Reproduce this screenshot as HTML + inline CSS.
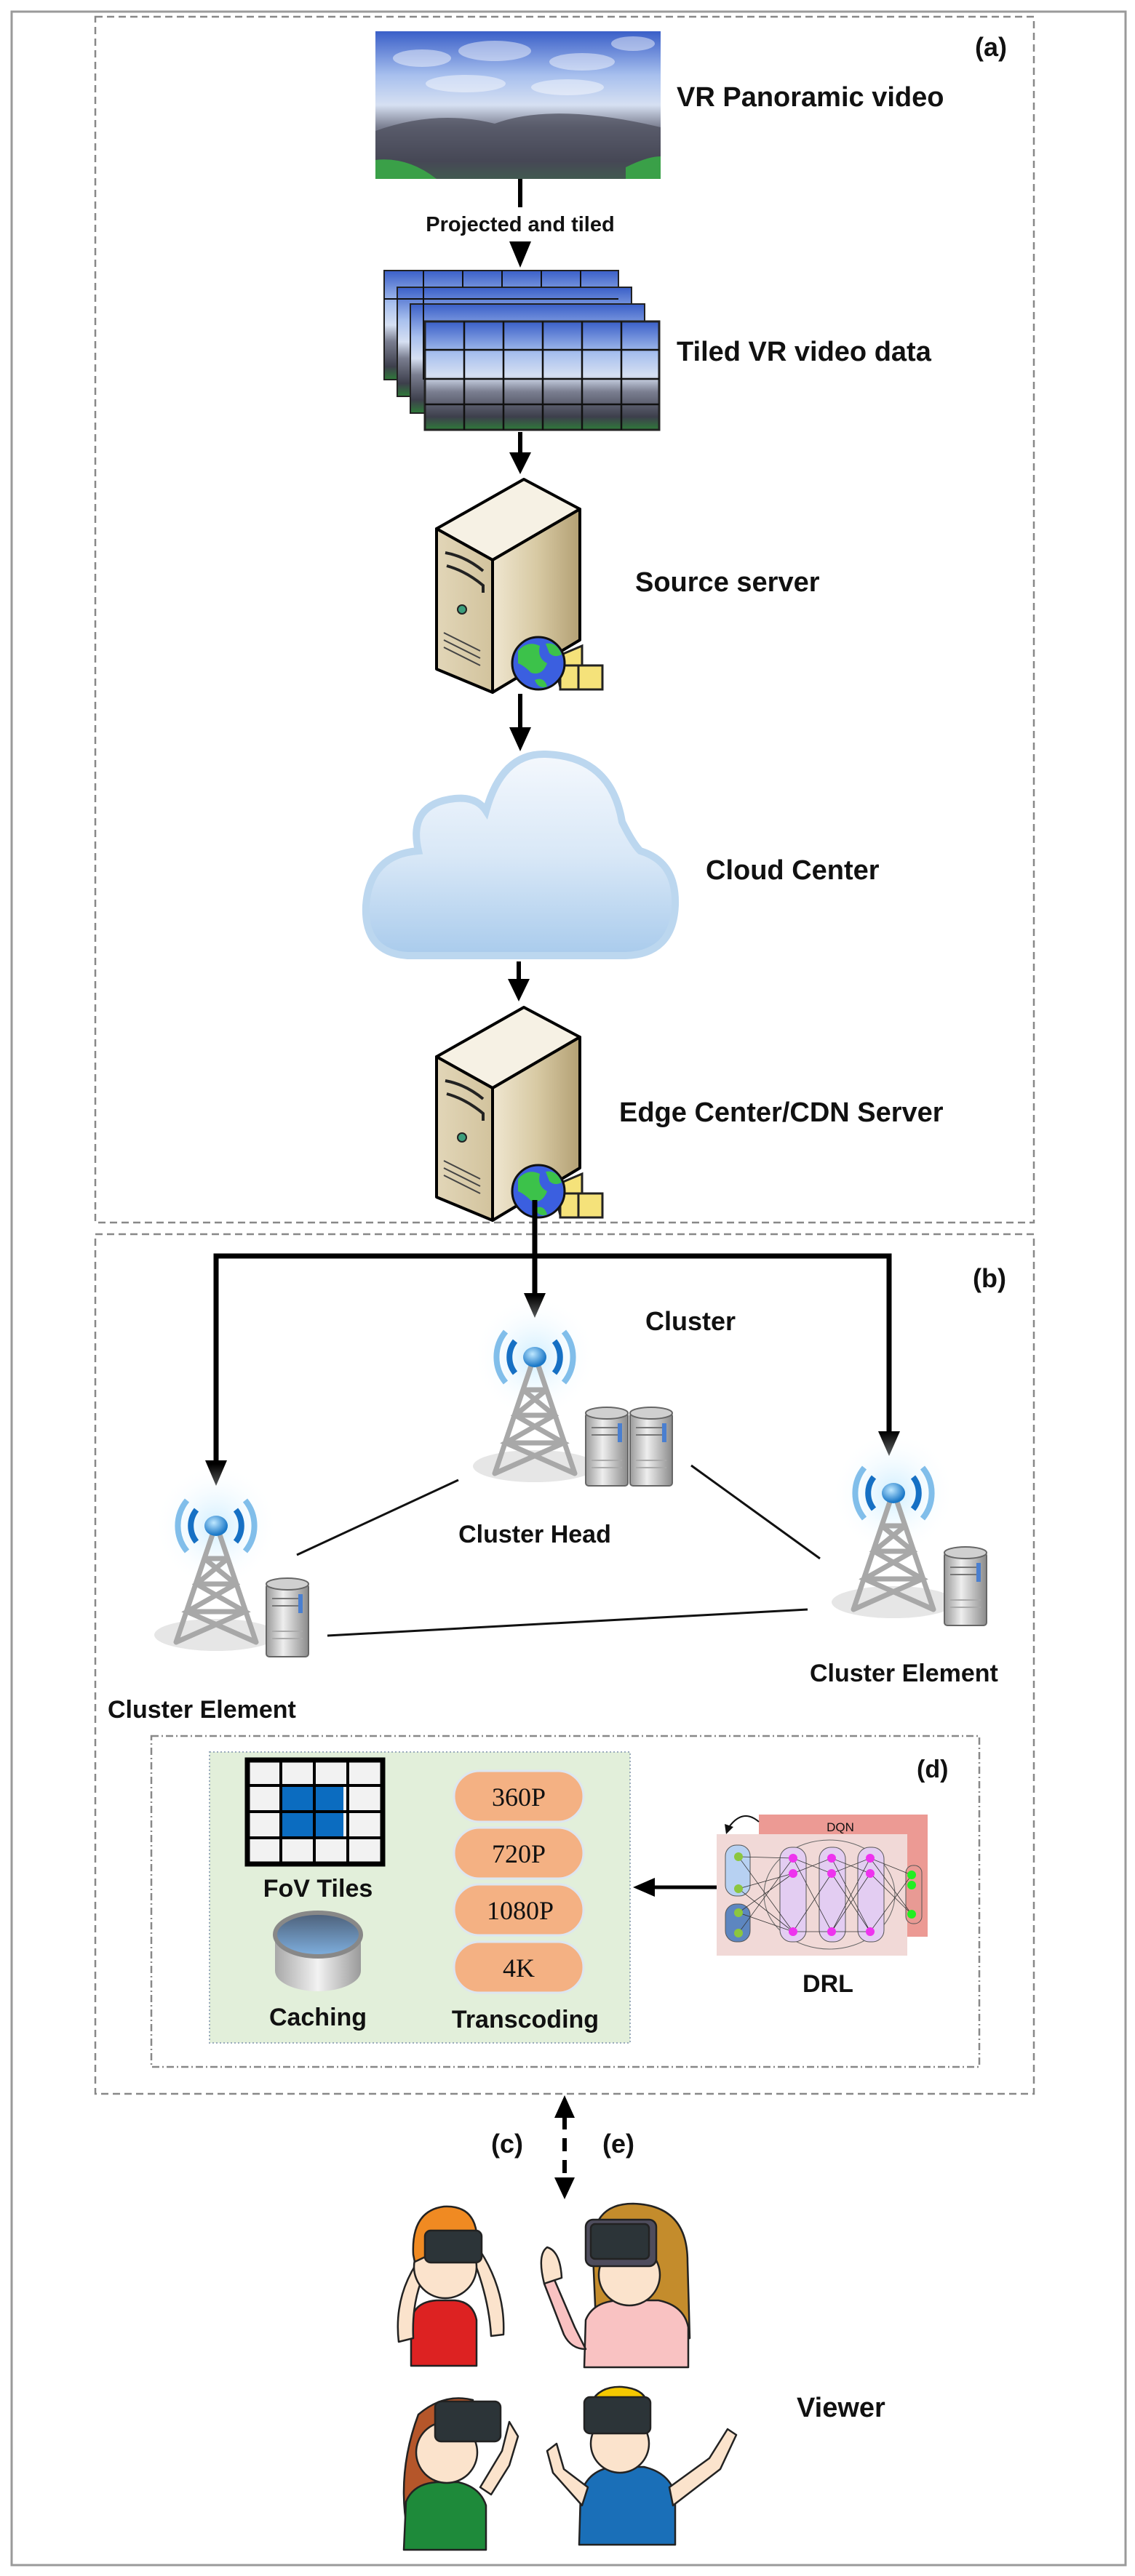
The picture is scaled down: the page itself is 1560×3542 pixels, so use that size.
<!DOCTYPE html>
<html><head><meta charset="utf-8">
<style>
html,body{margin:0;padding:0;background:#fff;}
svg{display:block;}
text{font-family:"Liberation Sans",Arial,sans-serif;font-weight:bold;fill:#111;}
.s{font-family:"Liberation Serif",serif;font-weight:normal;}
</style></head>
<body>
<svg width="1560" height="3542" viewBox="0 0 1560 3542" xmlns="http://www.w3.org/2000/svg">
<defs>
<linearGradient id="sky" x1="0" y1="0" x2="0" y2="1">
<stop offset="0" stop-color="#3a5fc8"/><stop offset="0.3" stop-color="#a8c0ee"/><stop offset="0.5" stop-color="#d6e0f2"/><stop offset="0.65" stop-color="#7a7e90"/><stop offset="0.88" stop-color="#3d3f4c"/><stop offset="1" stop-color="#2f7a3a"/>
</linearGradient>
<linearGradient id="cloud" x1="0" y1="0" x2="0" y2="1">
<stop offset="0" stop-color="#f4f8fd"/><stop offset="0.5" stop-color="#d9e8f7"/><stop offset="1" stop-color="#a9cbec"/>
</linearGradient>
<linearGradient id="srvL" x1="0" y1="0" x2="1" y2="0"><stop offset="0" stop-color="#e2d6b8"/><stop offset="1" stop-color="#d2c39d"/></linearGradient>
<linearGradient id="srvR" x1="0" y1="0" x2="1" y2="0"><stop offset="0" stop-color="#efe6d0"/><stop offset="0.5" stop-color="#d8caa4"/><stop offset="1" stop-color="#b3a074"/></linearGradient>
<linearGradient id="rack" x1="0" y1="0" x2="1" y2="0"><stop offset="0" stop-color="#9a9a9a"/><stop offset="0.4" stop-color="#eeeeee"/><stop offset="1" stop-color="#8a8a8a"/></linearGradient>
<linearGradient id="cyl" x1="0" y1="0" x2="1" y2="0"><stop offset="0" stop-color="#a8a8a8"/><stop offset="0.5" stop-color="#f2f2f2"/><stop offset="1" stop-color="#9a9a9a"/></linearGradient>
<linearGradient id="cylTop" x1="0" y1="0" x2="0" y2="1"><stop offset="0" stop-color="#4c5f78"/><stop offset="1" stop-color="#7fb0e0"/></linearGradient>
<radialGradient id="glow" cx="0.5" cy="0.5" r="0.5"><stop offset="0" stop-color="#cfeeff"/><stop offset="1" stop-color="#ffffff" stop-opacity="0"/></radialGradient>
<radialGradient id="ball" cx="0.4" cy="0.35" r="0.6"><stop offset="0" stop-color="#bfe8ff"/><stop offset="1" stop-color="#1a78c8"/></radialGradient>
<g id="server">
  <polygon points="600,727 720,659 797,700 677,770" fill="#f6f1e4" stroke="#000" stroke-width="4" stroke-linejoin="round"/>
  <polygon points="600,727 677,770 677,952 600,920" fill="url(#srvL)" stroke="#000" stroke-width="4" stroke-linejoin="round"/>
  <polygon points="677,770 797,700 797,880 677,952" fill="url(#srvR)" stroke="#000" stroke-width="4" stroke-linejoin="round"/>
  <path d="M612,760 Q640,765 664,785" stroke="#222" stroke-width="4" fill="none"/>
  <path d="M614,778 Q640,785 664,805 L664,815" stroke="#222" stroke-width="4" fill="none"/>
  <circle cx="635" cy="838" r="6" fill="#3c9e7c" stroke="#222" stroke-width="2"/>
  <path d="M610,870 L660,895 M610,880 L660,905 M610,890 L660,915" stroke="#444" stroke-width="2"/>
  <path d="M760,905 L800,888 L800,935 L770,945 Z" fill="#f5e27a" stroke="#222" stroke-width="3"/>
  <rect x="770" y="915" width="58" height="33" fill="#f5e27a" stroke="#222" stroke-width="3"/>
  <line x1="795" y1="915" x2="795" y2="948" stroke="#222" stroke-width="3"/>
  <circle cx="740" cy="912" r="36" fill="#3b5fe0" stroke="#111" stroke-width="3"/>
  <path d="M712,895 Q725,880 742,888 Q738,905 752,912 Q745,930 730,925 Q720,915 712,912 Z M750,885 Q765,882 772,900 Q762,905 755,898 Z M735,935 Q748,930 752,944 Q740,948 735,935 Z" fill="#3cc24a"/>
</g>
<g id="tower">
  <circle cx="0" cy="0" r="85" fill="url(#glow)"/>
  <path d="M-40,-35 A55,55 0 0 0 -40,35 M40,-35 A55,55 0 0 1 40,35" stroke="#1f8ad8" stroke-width="8" fill="none" opacity="0.55"/>
  <path d="M-27,-22 A35,35 0 0 0 -27,22 M27,-22 A35,35 0 0 1 27,22" stroke="#1670c4" stroke-width="8" fill="none"/>
  <ellipse cx="0" cy="150" rx="85" ry="22" fill="#e6e6e6"/>
  <path d="M-5,12 L-55,160 M5,12 L55,160 M-16,45 L16,45 M-27,80 L27,80 M-40,118 L40,118 M-16,45 L27,80 L-40,118 L55,160 M16,45 L-27,80 L40,118 L-55,160" stroke="#a8a8a8" stroke-width="7" fill="none" stroke-linecap="round"/>
  <ellipse cx="0" cy="0" rx="16" ry="14" fill="url(#ball)"/>
</g>
<g id="rk">
  <rect x="0" y="10" width="58" height="100" rx="4" fill="url(#rack)" stroke="#666" stroke-width="2"/>
  <ellipse cx="29" cy="10" rx="29" ry="8" fill="#d0d0d0" stroke="#666" stroke-width="2"/>
  <line x1="8" y1="30" x2="50" y2="30" stroke="#777" stroke-width="2"/><line x1="8" y1="40" x2="50" y2="40" stroke="#777" stroke-width="2"/>
  <rect x="44" y="24" width="6" height="26" fill="#4a7fd0"/>
  <line x1="8" y1="75" x2="50" y2="75" stroke="#aaa" stroke-width="2"/><line x1="8" y1="85" x2="50" y2="85" stroke="#aaa" stroke-width="2"/>
</g>
</defs>

<rect x="16" y="16" width="1531" height="3511" fill="none" stroke="#9a9a9a" stroke-width="3"/>
<rect x="131" y="23" width="1290" height="1658" fill="none" stroke="#888" stroke-width="2.5" stroke-dasharray="10,6"/>
<text x="1340" y="77" font-size="36">(a)</text>

<rect x="516" y="43" width="392" height="203" fill="url(#sky)"/>
<g fill="#ffffff" opacity="0.45">
<ellipse cx="580" cy="80" rx="40" ry="12"/><ellipse cx="680" cy="70" rx="50" ry="14"/><ellipse cx="800" cy="85" rx="45" ry="12"/><ellipse cx="870" cy="60" rx="30" ry="10"/><ellipse cx="640" cy="115" rx="55" ry="12"/><ellipse cx="780" cy="120" rx="50" ry="11"/>
</g>
<path d="M516,180 Q600,150 680,170 Q760,140 908,175 L908,246 L516,246 Z" fill="#4a4c5a" opacity="0.7"/>
<path d="M516,220 Q560,215 600,246 L516,246 Z M860,230 Q890,215 908,215 L908,246 L860,246 Z" fill="#3aa048"/>
<text x="930" y="146" font-size="38">VR Panoramic video</text>

<line x1="715" y1="246" x2="715" y2="285" stroke="#000" stroke-width="6"/>
<text x="715" y="318" font-size="29" text-anchor="middle">Projected and tiled</text>
<polygon points="700,332 730,332 715,368" fill="#000"/>

<g>
<rect x="528" y="372" width="322" height="150" fill="url(#sky)" stroke="#222" stroke-width="2"/>
<rect x="546" y="395" width="322" height="150" fill="url(#sky)" stroke="#222" stroke-width="2"/>
<rect x="564" y="418" width="322" height="150" fill="url(#sky)" stroke="#222" stroke-width="2"/>
<rect x="584" y="442" width="322" height="149" fill="url(#sky)" stroke="#222" stroke-width="3"/>
<path d="M584,481 H906 M584,521 H906 M584,556 H906 M638,442 V591 M692,442 V591 M746,442 V591 M800,442 V591 M854,442 V591" stroke="#111" stroke-width="2.5"/>
<path d="M528,411 H850 M582,372 V522 M636,372 V395 M690,372 V395 M744,372 V395 M798,372 V395" stroke="#111" stroke-width="2"/>
</g>
<text x="930" y="496" font-size="38">Tiled VR video data</text>
<line x1="715" y1="594" x2="715" y2="625" stroke="#000" stroke-width="6"/>
<polygon points="700,622 730,622 715,652" fill="#000"/>

<use href="#server"/>
<text x="873" y="813" font-size="38">Source server</text>

<line x1="715" y1="954" x2="715" y2="1005" stroke="#000" stroke-width="6"/>
<polygon points="700,1000 730,1000 715,1033" fill="#000"/>

<path d="M560,1314 Q500,1310 503,1245 Q508,1175 575,1170 Q560,1105 625,1098 Q655,1095 668,1115 Q690,1035 750,1037 Q840,1040 855,1130 Q870,1160 880,1170 Q930,1185 928,1245 Q925,1312 860,1314 Z" fill="url(#cloud)" stroke="#bcd7ef" stroke-width="10"/>
<text x="970" y="1209" font-size="38">Cloud Center</text>

<line x1="713" y1="1322" x2="713" y2="1350" stroke="#000" stroke-width="6"/>
<polygon points="698,1346 728,1346 713,1377" fill="#000"/>

<use href="#server" transform="translate(0,726)"/>
<text x="851" y="1542" font-size="38">Edge Center/CDN Server</text>

<rect x="131" y="1697" width="1290" height="1182" fill="none" stroke="#888" stroke-width="2.5" stroke-dasharray="10,6"/>
<text x="1337" y="1770" font-size="36">(b)</text>

<path d="M735,1650 V1780 M297,2010 V1727 H1222 V1970" stroke="#000" stroke-width="7" fill="none"/>
<polygon points="720,1778 750,1778 735,1812" fill="#000"/>
<polygon points="282,2008 312,2008 297,2043" fill="#000"/>
<polygon points="1207,1968 1237,1968 1222,2002" fill="#000"/>
<text x="887" y="1829" font-size="36">Cluster</text>

<path d="M408,2138 L630,2035 M950,2015 L1127,2143 M450,2249 L1110,2213" stroke="#111" stroke-width="3" fill="none"/>

<use href="#tower" transform="translate(735,1866)"/>
<use href="#rk" transform="translate(805,1933)"/>
<use href="#rk" transform="translate(866,1933)"/>
<text x="735" y="2121" font-size="34" text-anchor="middle">Cluster Head</text>

<use href="#tower" transform="translate(297,2098)"/>
<use href="#rk" transform="translate(366,2168)"/>
<text x="148" y="2362" font-size="34">Cluster Element</text>

<use href="#tower" transform="translate(1228,2053)"/>
<use href="#rk" transform="translate(1298,2125)"/>
<text x="1113" y="2312" font-size="34">Cluster Element</text>

<rect x="208" y="2387" width="1138" height="455" fill="none" stroke="#888" stroke-width="2.5" stroke-dasharray="10,4,2,4"/>
<text x="1260" y="2444" font-size="34">(d)</text>

<rect x="288" y="2409" width="578" height="400" fill="#e2efda" stroke="#9ab" stroke-width="2" stroke-dasharray="2,3"/>
<rect x="340" y="2420" width="186" height="143" fill="#f2f2f2" stroke="#000" stroke-width="7"/>
<rect x="386" y="2455" width="86" height="72" fill="#0b6cc0"/>
<path d="M386,2420 V2563 M432,2420 V2563 M478,2420 V2563 M340,2455 H526 M340,2491 H526 M340,2527 H526" stroke="#000" stroke-width="4"/>
<text x="437" y="2608" font-size="34" text-anchor="middle">FoV Tiles</text>
<path d="M378,2660 V2710 A59,28 0 0 0 496,2710 V2660 Z" fill="url(#cyl)"/>
<ellipse cx="437" cy="2660" rx="59" ry="30" fill="url(#cylTop)" stroke="#888" stroke-width="6"/>
<text x="437" y="2785" font-size="34" text-anchor="middle">Caching</text>
<g fill="#f4b183" stroke="#dde6f0" stroke-width="3">
<rect x="624" y="2435" width="178" height="70" rx="35"/>
<rect x="624" y="2513" width="178" height="70" rx="35"/>
<rect x="624" y="2591" width="178" height="70" rx="35"/>
<rect x="624" y="2670" width="178" height="70" rx="35"/>
</g>
<text class="s" x="713" y="2483" text-anchor="middle" font-size="36">360P</text>
<text class="s" x="713" y="2561" text-anchor="middle" font-size="36">720P</text>
<text class="s" x="715" y="2639" text-anchor="middle" font-size="36">1080P</text>
<text class="s" x="713" y="2718" text-anchor="middle" font-size="36">4K</text>
<text x="722" y="2788" font-size="34" text-anchor="middle">Transcoding</text>

<line x1="988" y1="2595" x2="895" y2="2595" stroke="#000" stroke-width="5"/>
<polygon points="900,2582 900,2608 870,2595" fill="#000"/>

<rect x="1043" y="2495" width="232" height="168" fill="#ec9a94"/>
<text x="1155" y="2518" font-size="17" text-anchor="middle" style="font-weight:normal">DQN</text>
<path d="M1043,2505 Q1020,2485 1000,2515" stroke="#111" stroke-width="2" fill="none"/>
<polygon points="996,2508 1008,2512 998,2522" fill="#111"/>
<rect x="985" y="2522" width="262" height="167" fill="#f1d9d7"/>
<ellipse cx="1140" cy="2605" rx="90" ry="75" fill="none" stroke="#666" stroke-width="1"/>
<rect x="997" y="2537" width="34" height="70" rx="15" fill="#b7d1f2" stroke="#555" stroke-width="1"/>
<rect x="997" y="2618" width="34" height="52" rx="15" fill="#5d86c0" stroke="#555" stroke-width="1"/>
<rect x="1072" y="2540" width="36" height="130" rx="16" fill="#e3cdf2" stroke="#555" stroke-width="1"/>
<rect x="1126" y="2540" width="36" height="130" rx="16" fill="#e3cdf2" stroke="#555" stroke-width="1"/>
<rect x="1179" y="2540" width="36" height="130" rx="16" fill="#e3cdf2" stroke="#555" stroke-width="1"/>
<rect x="1245" y="2565" width="22" height="80" rx="10" fill="#e89a94" stroke="#555" stroke-width="1"/>
<g stroke="#333" stroke-width="0.8" fill="none">
<path d="M1015,2553 L1090,2555 L1143,2576 L1196,2555 L1253,2578 M1015,2597 L1090,2576 L1143,2555 L1196,2576 L1253,2632 M1015,2630 L1090,2656 L1143,2656 L1196,2656 L1253,2578 M1015,2658 L1090,2555 L1143,2656 L1196,2555 L1253,2632 M1015,2553 L1090,2656 L1143,2576 L1196,2656 M1015,2597 L1090,2656 M1015,2630 L1090,2576 M1090,2555 L1143,2656 M1143,2555 L1196,2656 M1143,2656 L1196,2576"/>
</g>
<g fill="#8cc63f"><circle cx="1015" cy="2553" r="6"/><circle cx="1015" cy="2597" r="6"/><circle cx="1015" cy="2630" r="6"/><circle cx="1015" cy="2658" r="6"/></g>
<g fill="#ee33ee"><circle cx="1090" cy="2555" r="6"/><circle cx="1090" cy="2576" r="6"/><circle cx="1090" cy="2656" r="6"/><circle cx="1143" cy="2555" r="6"/><circle cx="1143" cy="2576" r="6"/><circle cx="1143" cy="2656" r="6"/><circle cx="1196" cy="2555" r="6"/><circle cx="1196" cy="2576" r="6"/><circle cx="1196" cy="2656" r="6"/></g>
<g fill="#22ee22"><circle cx="1253" cy="2578" r="6"/><circle cx="1253" cy="2592" r="6"/><circle cx="1253" cy="2632" r="6"/></g>
<text x="1138" y="2739" font-size="34" text-anchor="middle">DRL</text>

<line x1="776" y1="2910" x2="776" y2="3000" stroke="#000" stroke-width="6" stroke-dasharray="18,12"/>
<polygon points="762,2912 790,2912 776,2881" fill="#000"/>
<polygon points="762,2994 790,2994 776,3024" fill="#000"/>
<text x="675" y="2960" font-size="36">(c)</text>
<text x="828" y="2960" font-size="36">(e)</text>

<g stroke="#222" stroke-width="2.5" stroke-linejoin="round">
<path d="M565,3253 L565,3190 Q570,3165 600,3163 L625,3163 Q650,3165 655,3190 L655,3253 Z" fill="#dd2222"/>
<path d="M548,3220 Q540,3150 585,3095 L595,3105 Q565,3150 568,3215 Z M660,3095 Q695,3150 692,3210 L675,3212 Q672,3160 650,3105 Z" fill="#fbe3cc"/>
<circle cx="612" cy="3117" r="43" fill="#fbe3cc"/>
<path d="M568,3100 Q565,3040 610,3034 Q650,3032 655,3070 L570,3110 Z" fill="#f08a22"/>
<rect x="584" y="3067" width="78" height="44" rx="8" fill="#2c3438"/>
<path d="M815,3100 Q810,3030 870,3030 Q945,3032 945,3110 L948,3215 L900,3225 L820,3215 Z" fill="#c48c2c"/>
<path d="M803,3255 L805,3190 Q815,3165 850,3163 L905,3163 Q940,3170 946,3200 L946,3255 Z" fill="#f9c2c2"/>
<path d="M790,3200 L760,3130 L748,3140 L775,3210 Q785,3230 805,3230 Z" fill="#f9c2c2"/>
<path d="M748,3140 Q738,3100 752,3090 Q770,3095 772,3132 Z" fill="#fbe3cc"/>
<circle cx="865" cy="3128" r="42" fill="#fbe3cc"/>
<rect x="805" y="3052" width="97" height="64" rx="10" fill="#4e4c5c"/>
<rect x="812" y="3058" width="80" height="48" rx="6" fill="#2c3438"/>
<path d="M560,3480 Q545,3400 575,3320 Q610,3290 650,3300 L600,3440 Z" fill="#b5562a"/>
<path d="M555,3506 L558,3440 Q568,3415 600,3413 L630,3413 Q660,3420 668,3445 L668,3506 Z" fill="#1e8a3a"/>
<circle cx="614" cy="3372" r="42" fill="#fbe3cc"/>
<path d="M660,3420 L690,3370 L700,3330 L712,3350 L700,3390 L675,3430 Z" fill="#fbe3cc"/>
<rect x="598" y="3302" width="90" height="55" rx="8" fill="#2c3438"/>
<path d="M796,3499 L798,3430 Q808,3395 845,3392 L885,3392 Q920,3400 928,3430 L928,3499 Z" fill="#1a6fb8"/>
<path d="M808,3420 L775,3395 L765,3360 L752,3370 L760,3400 L800,3445 Z M920,3420 L975,3380 L1000,3340 L1012,3348 L990,3395 L925,3445 Z" fill="#fbe3cc"/>
<circle cx="852" cy="3360" r="40" fill="#fbe3cc"/>
<path d="M805,3330 Q810,3280 855,3282 Q890,3285 890,3310 L810,3330 Z" fill="#f5c800"/>
<rect x="803" y="3296" width="91" height="50" rx="8" fill="#2c3438"/>
</g>
<text x="1095" y="3323" font-size="38">Viewer</text>
</svg>
</body></html>
